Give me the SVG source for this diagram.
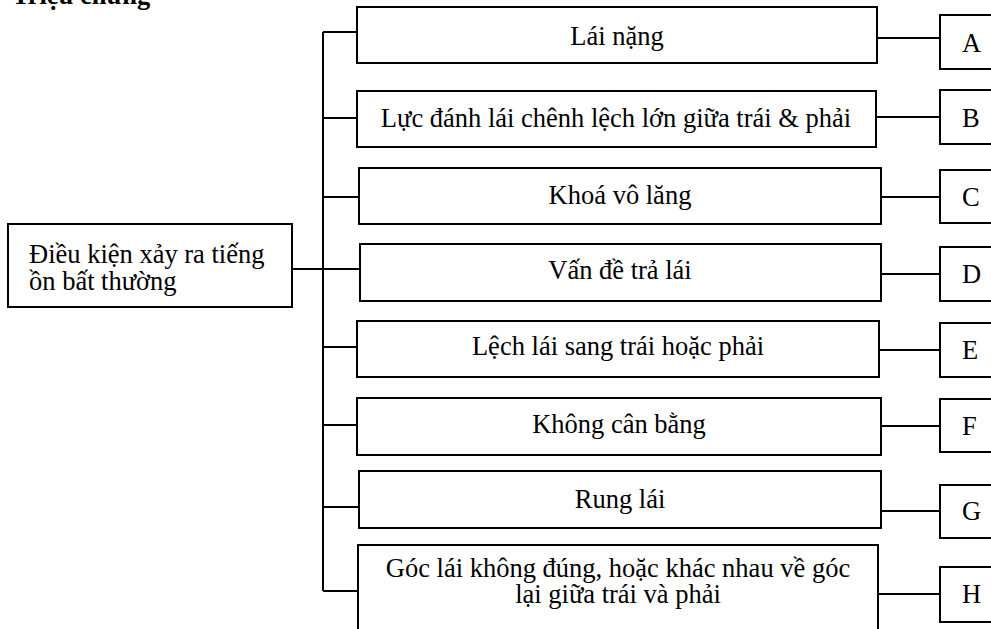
<svg xmlns="http://www.w3.org/2000/svg" width="991" height="629" viewBox="0 0 991 629">
<style>
.box{fill:#fff;stroke:#000;stroke-width:2}
.t{font-family:"Liberation Serif","Times New Roman",serif;font-size:26.5px;fill:#000}
.m{text-anchor:middle}
.ln{stroke:#000;stroke-width:2;fill:none}
</style>
<rect width="991" height="629" fill="#fff"/>
<text class="t" x="12" y="4" font-weight="bold">Triệu chứng</text>
<g id="connectors">
<path class="ln" d="M323 32V591"/>
<path class="ln" stroke-width="3" d="M292 269H323"/>
<path class="ln" d="M323 32H357M323 118H357M323 197H359M323 269H360M323 347H357M323 425H357M323 507H359M323 591H358"/>
<path class="ln" d="M877 38H940M876 117H940M881 197H940M881 274H940M879 350H940M881 426H940M881 511H940M878 594H940"/>
</g>
<g id="root"><rect class="box" x="8" y="224" width="284" height="83"/><text class="t" x="29" y="263">Điều kiện xảy ra tiếng</text><text class="t" x="29" y="290">ồn bất thường</text></g>
<g id="n1"><rect class="box" x="357" y="7" width="520" height="56"/><text class="t m" x="617" y="45">Lái nặng</text></g>
<g id="n2"><rect class="box" x="357" y="91" width="519" height="56"/><text class="t m" x="616" y="127">Lực đánh lái chênh lệch lớn giữa trái &amp; phải</text></g>
<g id="n3"><rect class="box" x="359" y="168" width="522" height="56"/><text class="t m" x="620" y="204">Khoá vô lăng</text></g>
<g id="n4"><rect class="box" x="360" y="244" width="521" height="57"/><text class="t m" x="620" y="279">Vấn đề trả lái</text></g>
<g id="n5"><rect class="box" x="357" y="321" width="522" height="56"/><text class="t m" x="618" y="355">Lệch lái sang trái hoặc phải</text></g>
<g id="n6"><rect class="box" x="357" y="398" width="524" height="57"/><text class="t m" x="619" y="433">Không cân bằng</text></g>
<g id="n7"><rect class="box" x="359" y="471" width="522" height="57"/><text class="t m" x="620" y="508">Rung lái</text></g>
<g id="n8"><rect class="box" x="358" y="545" width="520" height="100"/><text class="t m" x="618" y="577">Góc lái không đúng, hoặc khác nhau về góc</text><text class="t m" x="618" y="603">lại giữa trái và phải</text></g>
<g id="nA"><rect class="box" x="940" y="15" width="60" height="54"/><text class="t" x="962" y="52">A</text></g>
<g id="nB"><rect class="box" x="940" y="90" width="60" height="54"/><text class="t" x="962" y="127">B</text></g>
<g id="nC"><rect class="box" x="940" y="170" width="60" height="53"/><text class="t" x="962" y="206">C</text></g>
<g id="nD"><rect class="box" x="940" y="247" width="60" height="54"/><text class="t" x="962" y="283">D</text></g>
<g id="nE"><rect class="box" x="940" y="323" width="60" height="54"/><text class="t" x="962" y="359">E</text></g>
<g id="nF"><rect class="box" x="940" y="399" width="60" height="53"/><text class="t" x="962" y="435">F</text></g>
<g id="nG"><rect class="box" x="940" y="485" width="60" height="53"/><text class="t" x="962" y="520">G</text></g>
<g id="nH"><rect class="box" x="940" y="567" width="60" height="55"/><text class="t" x="962" y="603">H</text></g>
</svg>
